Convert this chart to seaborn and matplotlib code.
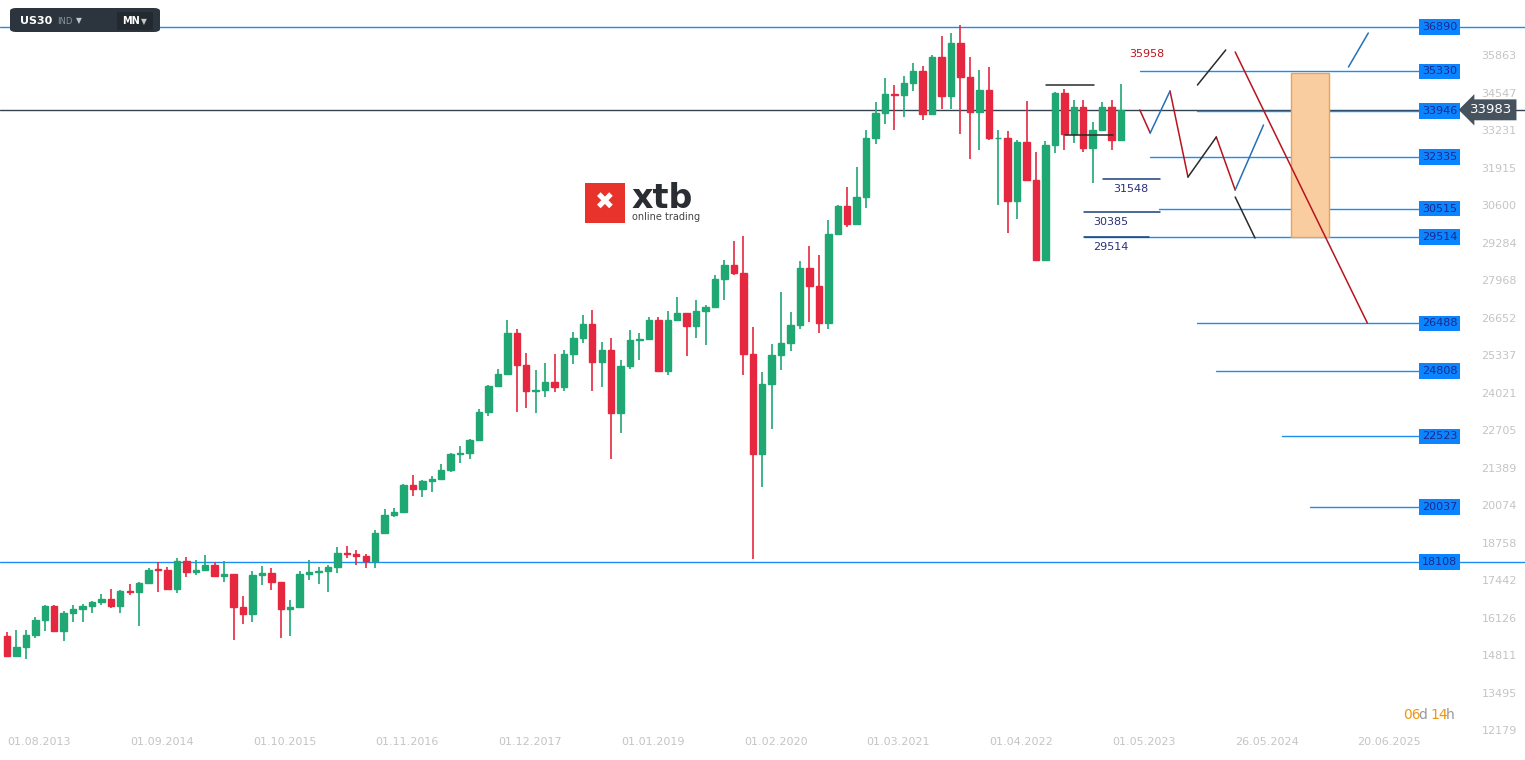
import numpy as np
import pandas as pd
import matplotlib
matplotlib.use("Agg")
import matplotlib.pyplot as plt
from matplotlib.patches import FancyBboxPatch, Rectangle
import seaborn as sns

# ---------------- data ----------------
first_open = 15500
closes = [14810, 15130, 15545, 16086, 16577,
          15699, 16322, 16458, 16581, 16717, 16827, 16563, 17098, 17043, 17391, 17828, 17823,
          17165, 18133, 17776, 17841, 18011, 17620, 17690, 16528, 16285, 17664, 17720, 17425,
          16466, 16517, 17685, 17774, 17787, 17930, 18432, 18401, 18308, 18142, 19124, 19763,
          19864, 20812, 20663, 20940, 21009, 21350, 21891, 21948, 22405, 23377, 24272, 24719,
          26149, 25029, 24103, 24163, 24416, 24271, 25415, 25965, 26458, 25116, 25538, 23327,
          24999, 25916, 25929, 26593, 24815, 26600, 26864, 26403, 26917, 27046, 28051, 28538,
          28256, 25409, 21917, 24346, 25383, 25813, 26428, 28430, 27782, 26502, 29638, 30606,
          29983, 30932, 32982, 33875, 34529, 34503, 34935, 35361, 33844, 35820, 34484, 36338,
          35132, 33893, 34678, 32977, 32990, 30775, 32845, 31510, 28726, 32733, 34590, 33147,
          34086, 32657, 33274, 34098, 32908, 33983]
highs = [15658, 15710, 15721, 16174, 16588,
         16589, 16399, 16589, 16632, 16736, 16978, 17152, 17136, 17350, 17395, 17894, 18103,
         17951, 18244, 18289, 18175, 18351, 18121, 18137, 17662, 16933, 17799, 17977, 17896,
         17422, 16793, 17790, 18167, 17934, 18016, 18622, 18668, 18534, 18399, 19225, 19987,
         19999, 20851, 21170, 21006, 21113, 21535, 21929, 22179, 22420, 23485, 24327, 24876,
         26617, 26307, 25450, 24858, 25087, 25403, 25542, 26167, 26770, 26952, 25818, 25980,
         25195, 26242, 26155, 26696, 26696, 26908, 27398, 26864, 27306, 27122, 28174, 28701,
         29374, 29568, 26365, 24764, 25758, 27580, 26903, 28664, 29199, 28902, 30116, 30637,
         31272, 31961, 33259, 34256, 35091, 34849, 35171, 35631, 35510, 35892, 36565, 36680,
         36952, 35824, 35372, 35492, 33272, 33250, 32910, 34281, 32504, 32883, 34595, 34712,
         34342, 34334, 33572, 34257, 34333, 34900]
lows = [14760, 14777, 14719, 15440, 15703,
        15698, 15340, 16016, 16015, 16331, 16616, 16487, 16334, 16945, 15855, 17331, 17067,
        17136, 17037, 17585, 17660, 17815, 17594, 17400, 15370, 15942, 16013, 17320, 17138,
        15451, 15503, 16545, 17484, 17331, 17063, 17713, 18247, 17992, 17888, 17884, 19129,
        19677, 19831, 20412, 20380, 20554, 20994, 21279, 21600, 21709, 22416, 23242, 24242,
        24741, 23360, 23509, 23345, 23908, 24077, 24117, 25044, 25790, 24123, 24268, 21713,
        22639, 24883, 25209, 25996, 24853, 24680, 26582, 25340, 25978, 25743, 27033, 27325,
        28169, 24681, 18213, 20735, 22790, 24843, 25523, 26284, 26537, 26143, 26277, 29602,
        29856, 29962, 30547, 32787, 33474, 33271, 33741, 34628, 33613, 33785, 34006, 34009,
        33150, 32272, 32578, 32913, 30635, 29653, 30143, 31509, 28715, 28660, 32473, 32573,
        32812, 32500, 31429, 33235, 32586, 33200]

date_labels = ["01.08.2013", "01.09.2014", "01.10.2015", "01.11.2016", "01.12.2017",
               "01.01.2019", "01.02.2020", "01.03.2021", "01.04.2022", "01.05.2023",
               "26.05.2024", "20.06.2025"]
date_months = [0, 13, 26, 39, 52, 65, 78, 91, 104, 117, 130, 143]

axis_ticks = [35863, 34547, 33231, 31915, 30600, 29284, 27968, 26652, 25337, 24021,
              22705, 21389, 20074, 18758, 17442, 16126, 14811, 13495, 12179]

# level lines: (value, start month)
level_vals = [35330, 33946, 32335, 30515, 29514, 26488, 24808, 22523, 20037]
level_starts = [120.0, 126.1, 121.1, 122.0, 114.1, 126.1, 128.1, 135.1, 138.0]
full_levels = [36890, 18108]
current_price = 33983

# scenario paths (month, price)
red_segments = [[(120.0, 33977), (121.1, 33169)], [(123.2, 34644), (125.1, 31625)],
                [(128.1, 33029), (130.1, 31169)], [(130.1, 36012), (144.1, 26500)]]
blue_segments = [[(121.1, 33169), (123.2, 34644)], [(130.1, 31169), (133.1, 33450)],
                 [(142.1, 35486), (144.2, 36679)]]
black_segments = [[(125.1, 31625), (128.1, 33029)], [(130.1, 30923), (132.2, 29484)],
                  [(126.1, 34854), (129.1, 36083)], [(110.1, 34854), (115.1, 34854)],
                  [(112.1, 33099), (117.2, 33099)]]
navy_marks = [(31548, 116.1, 122.1, 31548), (30385, 114.1, 122.1, 30385), (29514, 114.1, 121.0, 29514)]

# ---------------- figure ----------------
sns.set_theme(style="white")
plt.rcParams['font.family'] = ['DejaVu Sans']
fig = plt.figure(figsize=(15.25, 7.6), dpi=100)
ax = fig.add_axes([0, 0, 1, 1])
ax.set_xlim(-0.74, 160.8)
ax.set_ylim(11161, 37838)
ax.axis('off')

o = [first_open] + closes[:-1]
df = pd.DataFrame({"m": np.arange(len(closes)), "o": o, "c": closes, "h": highs, "l": lows})
up = df.c >= df.o
col = np.where(up, '#1fa774', '#e5283f')
ax.vlines(df.m, df.l, df.h, colors=col, lw=1.2, zorder=3)
ax.bar(df.m, (df.c - df.o).abs().clip(lower=30), bottom=np.minimum(df.o, df.c),
       width=0.68, color=col, edgecolor=col, zorder=4)

blue = '#1c8cf5'
for v in full_levels:
    ax.axhline(v, color=blue, lw=1.0, zorder=2)
ax.axhline(current_price, color='#34424f', lw=1.0, zorder=2)
for v, s in zip(level_vals, level_starts):
    ax.plot([s, 149.7], [v, v], color=blue, lw=1.0, zorder=2)

for segs, c in [(red_segments, '#b8141e'), (blue_segments, '#2471b8'), (black_segments, '#2a2a2a')]:
    for seg in segs:
        xs, ys = zip(*seg)
        sns.lineplot(x=list(xs), y=list(ys), ax=ax, color=c, lw=1.1, zorder=5, sort=False)
for lbl, x0, x1, v in navy_marks:
    ax.plot([x0, x1], [v, v], color='#1a3e7a', lw=1.1, zorder=5)
    ax.text(x0 + 1.0 if lbl != 31548 else 117.2, v - 160, str(lbl), color='#2a2f7a',
            fontsize=8, va='top', ha='left', zorder=6)
ax.text(118.9, 35958, "35958", color='#c0141e', fontsize=8, va='center', ha='left')

ax.add_patch(Rectangle((136.0, 29514), 4.0, 35275 - 29514, facecolor='#f9cd9f',
                       edgecolor='#f0a050', lw=1, zorder=3))

# right labels
for v in level_vals + full_levels:
    ax.text(149.9, v, str(v), color='#1a2a8a', fontsize=8, va='center', ha='left', zorder=7,
            bbox=dict(boxstyle='square,pad=0.25', fc='#0a84ff', ec='none'))
for v in axis_ticks:
    ax.text(156.2, v, str(v), color='#c4c4c4', fontsize=8, va='center', ha='left')
ax.text(155.0, current_price, str(current_price), color='white', fontsize=9.5, va='center',
        ha='left', zorder=8, bbox=dict(boxstyle='larrow,pad=0.3', fc='#46535e', ec='none'))

for m, lbl in zip(date_months, date_labels):
    ax.text(m + 0.05, 0.024, lbl, transform=ax.get_xaxis_transform(), color='#c4c4c4',
            fontsize=8, va='center', ha='left')

# countdown
fig.text(1403 / 1525, 1 - 715 / 760, "06", color='#f0960a', fontsize=10, va='center')
fig.text(1418 / 1525, 1 - 715 / 760, "d", color='#999999', fontsize=10, va='center')
fig.text(1430 / 1525, 1 - 715 / 760, "14", color='#f0960a', fontsize=10, va='center')
fig.text(1446 / 1525, 1 - 715 / 760, "h", color='#999999', fontsize=10, va='center')

# top-left box
fig.patches.append(FancyBboxPatch((10 / 1525, 1 - 32 / 760), 150 / 1525, 24 / 760,
                                  boxstyle='round,pad=0,rounding_size=0.004',
                                  transform=fig.transFigure, fc='#2c353d', ec='none', zorder=1))
fig.patches.append(Rectangle((117 / 1525, 1 - 30 / 760), 36 / 1525, 18 / 760,
                             transform=fig.transFigure, fc='#222a30', ec='none', zorder=1))
fig.text(20 / 1525, 1 - 21 / 760, "US30", color='white', fontsize=8, fontweight='bold', va='center')
fig.text(57 / 1525, 1 - 21 / 760, "IND", color='#8a949c', fontsize=6, va='center')
fig.text(76 / 1525, 1 - 21 / 760, "▼", color='#c0c6cc', fontsize=5.5, va='center')
fig.text(122 / 1525, 1 - 21 / 760, "MN", color='white', fontsize=7, fontweight='bold', va='center')
fig.text(141 / 1525, 1 - 22 / 760, "▼", color='#c0c6cc', fontsize=5.5, va='center')

# logo
fig.patches.append(Rectangle((585 / 1525, 1 - 223 / 760), 40 / 1525, 40 / 760,
                             transform=fig.transFigure, fc='#e8322c', ec='none', zorder=2))
fig.text(605 / 1525, 1 - 203 / 760, "✖", color='white', fontsize=17, ha='center', va='center', zorder=3)
fig.text(631 / 1525, 1 - 198 / 760, "xtb", color='#2a2e33', fontsize=24, fontweight='bold', va='center')
fig.text(632 / 1525, 1 - 217 / 760, "online trading", color='#444', fontsize=7, va='center')

fig.savefig("out.png", dpi=100)
